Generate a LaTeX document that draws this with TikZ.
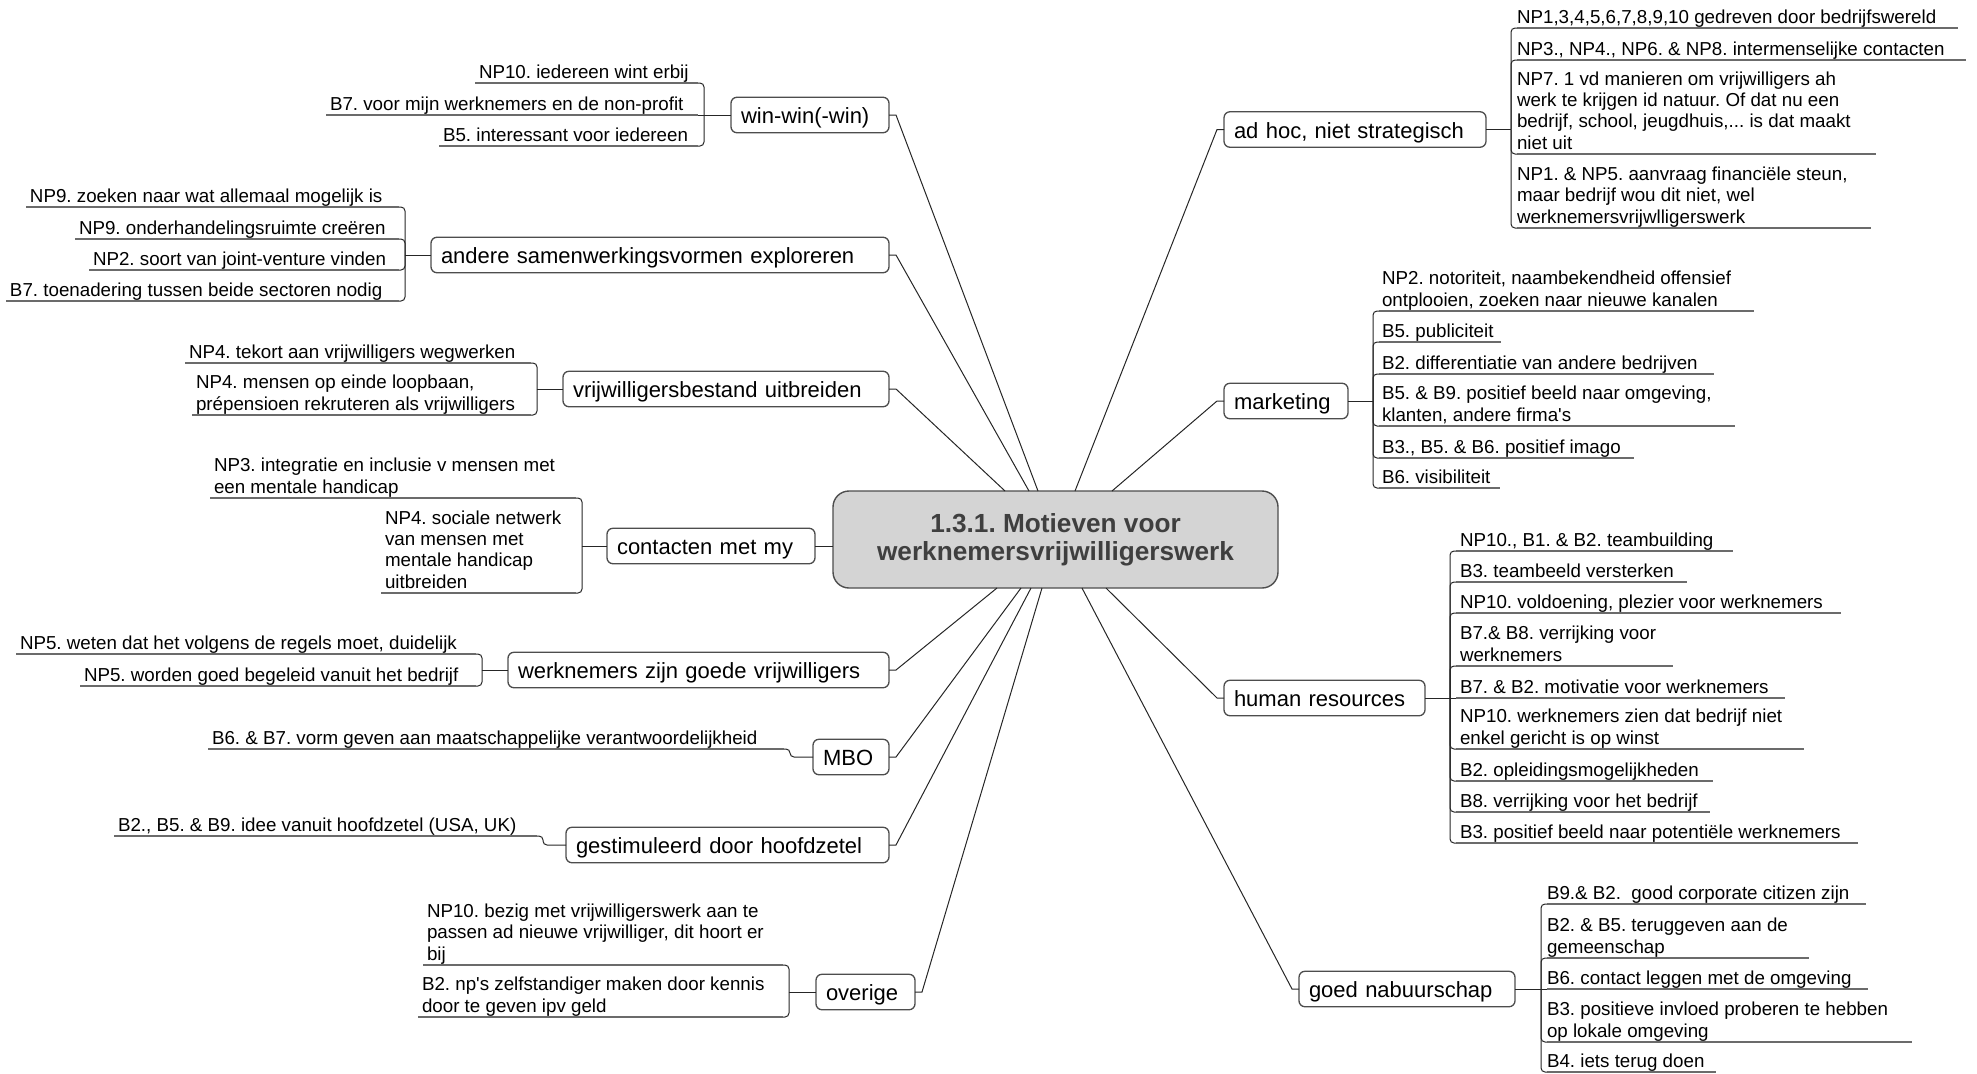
\documentclass[tikz,border=0pt]{standalone}
\usepackage{fontspec}
\setmainfont{Liberation Sans}
\usetikzlibrary{calc}
\frenchspacing
\definecolor{linecol}{HTML}{262626}
\definecolor{boxcol}{HTML}{4D4D4D}
\definecolor{ulcol}{HTML}{6B6B6B}
\definecolor{cfill}{HTML}{D4D4D4}
\definecolor{ctext}{HTML}{3F3F3F}
\newcommand{\ml}[1]{\begin{tabular}[b]{@{}l@{}}#1\end{tabular}}
\tikzset{
  item/.style={inner sep=0pt, outer sep=0pt, font=\fontsize{9.38pt}{10.6pt}\selectfont\frenchspacing},
  uline/.style={draw=ulcol, line width=0.8pt},
  conn/.style={draw=linecol, line width=0.5pt},
  topic/.style={draw=boxcol, line width=0.65pt, rounded corners=3pt, inner xsep=5pt, inner ysep=2pt,
    outer sep=0pt, minimum height=17.75pt, align=left, anchor=west, text height=8.6pt, text depth=0pt,
    font=\fontsize{11pt}{13pt}\selectfont\frenchspacing},
  centre/.style={draw=boxcol, line width=0.7pt, fill=cfill, rounded corners=8pt, minimum width=222.5pt,
    minimum height=48.5pt, align=center, text=ctext, outer sep=0pt,
    font=\fontsize{13.1pt}{14pt}\selectfont\bfseries\frenchspacing}
}
% left item: name, underline start x, bracket x, underline y, text
\newcommand{\LItem}[5]{%
  \coordinate (#1-a) at (#2,#4);
  \coordinate (#1-z) at (#3-6,#4);
  \node[item, anchor=base west] (#1) at (#2+4,#4-5) {\ml{#5}};
  \draw[uline] (#1-a) -- (#1-z);
}
% right item: name, bracket x, text gap, underline end x, underline y, text
\newcommand{\RItem}[6]{%
  \coordinate (#1-z) at (#2+6,#5);
  \coordinate (#1-a) at (#4,#5);
  \node[item, anchor=base west] (#1) at (#2+#3,#5-5) {\ml{#6}};
  \draw[uline] (#1-z) -- (#1-a);
}
\newcommand{\Br}[2]{\draw[conn, rounded corners=2pt] (#1) -- (#1 |- #2) -- (#2);}
\begin{document}
\begin{tikzpicture}[x=0.5pt,y=-0.5pt]
\useasboundingbox (0,0) rectangle (1977,1073);

% centre
\node[centre] (C) at (1055.5,539.5) {1.3.1. Motieven voor\\werknemersvrijwilligerswerk};

% ---------- left topics ----------
\node[topic, text width=69pt] (ww) at (731,115) {win-win(-win)};
\coordinate (ww-s) at (704,115);
\LItem{ww1}{475}{704}{83}{NP10. iedereen wint erbij}
\LItem{ww2}{326}{704}{115}{B7. voor mijn werknemers en de non-profit}
\LItem{ww3}{439}{704}{146}{B5. interessant voor iedereen}
\draw[conn] (ww.west) -- (ww-s);
\Br{ww-s}{ww1-z} \draw[conn] (ww-s) -- (ww2-z); \Br{ww-s}{ww3-z}

\node[topic, text width=219pt] (an) at (431,255) {andere samenwerkingsvormen exploreren};
\coordinate (an-s) at (405,255);
\LItem{an1}{26}{405}{207}{NP9. zoeken naar wat allemaal mogelijk is}
\LItem{an2}{75}{405}{239}{NP9. onderhandelingsruimte creëren}
\LItem{an3}{89}{405}{270}{NP2. soort van joint-venture vinden}
\LItem{an4}{6}{405}{301}{B7. toenadering tussen beide sectoren nodig}
\draw[conn] (an.west) -- (an-s);
\Br{an-s}{an1-z} \Br{an-s}{an2-z} \Br{an-s}{an3-z} \Br{an-s}{an4-z}

\node[topic, text width=153pt] (vr) at (563,389) {vrijwilligersbestand uitbreiden};
\coordinate (vr-s) at (537,389);
\LItem{vr1}{185}{537}{363}{NP4. tekort aan vrijwilligers wegwerken}
\LItem{vr2}{192}{537}{415}{NP4. mensen op einde loopbaan,\\prépensioen rekruteren als vrijwilligers}
\draw[conn] (vr.west) -- (vr-s);
\Br{vr-s}{vr1-z} \Br{vr-s}{vr2-z}

\node[topic, text width=94pt] (co) at (607,546) {contacten met my};
\coordinate (co-s) at (582,546);
\LItem{co1}{210}{582}{498}{NP3. integratie en inclusie v mensen met\\een mentale handicap}
\LItem{co2}{381}{582}{593}{NP4. sociale netwerk\\van mensen met\\mentale handicap\\uitbreiden}
\draw[conn] (co.west) -- (co-s);
\Br{co-s}{co1-z} \Br{co-s}{co2-z}

\node[topic, text width=180.5pt] (wn) at (508,670) {werknemers zijn goede vrijwilligers};
\coordinate (wn-s) at (482,670);
\LItem{wn1}{16}{482}{654}{NP5. weten dat het volgens de regels moet, duidelijk}
\LItem{wn2}{80}{482}{686}{NP5. worden goed begeleid vanuit het bedrijf}
\draw[conn] (wn.west) -- (wn-s);
\Br{wn-s}{wn1-z} \Br{wn-s}{wn2-z}

\node[topic, text width=28pt] (mb) at (813,757) {MBO};
\coordinate (mb-s) at (790,757);
\LItem{mb1}{208}{790}{749}{B6. \& B7. vorm geven aan maatschappelijke verantwoordelijkheid}
\draw[conn, rounded corners=2pt] (mb.west) -- (mb-s) -- (mb-s |- mb1-z) -- (mb1-z);

\node[topic, text width=151.5pt] (gs) at (566,845) {gestimuleerd door hoofdzetel};
\coordinate (gs-s) at (543,845);
\LItem{gs1}{114}{543}{836}{B2., B5. \& B9. idee vanuit hoofdzetel (USA, UK)}
\draw[conn, rounded corners=2pt] (gs.west) -- (gs-s) -- (gs-s |- gs1-z) -- (gs1-z);

\node[topic, text width=39.5pt] (ov) at (816,992) {overige};
\coordinate (ov-s) at (789,992);
\LItem{ov1}{423}{789}{965}{NP10. bezig met vrijwilligerswerk aan te\\passen ad nieuwe vrijwilliger, dit hoort er\\bij}
\LItem{ov2}{418}{789}{1017}{B2. np\textquotesingle s zelfstandiger maken door kennis\\door te geven ipv geld}
\draw[conn] (ov.west) -- (ov-s);
\Br{ov-s}{ov1-z} \Br{ov-s}{ov2-z}

% ---------- right topics ----------
\node[topic, text width=121pt] (ah) at (1224,129.5) {ad hoc, niet strategisch};
\coordinate (ah-s) at (1511,129.5);
\RItem{ah1}{1511}{6}{1958}{28}{NP1,3,4,5,6,7,8,9,10 gedreven door bedrijfswereld}
\RItem{ah2}{1511}{6}{1966}{60}{NP3., NP4., NP6. \& NP8. intermenselijke contacten}
\RItem{ah3}{1511}{6}{1876}{154}{NP7. 1 vd manieren om vrijwilligers ah\\werk te krijgen id natuur. Of dat nu een\\bedrijf, school, jeugdhuis,... is dat maakt\\niet uit}
\RItem{ah4}{1511}{6}{1871}{228}{NP1. \& NP5. aanvraag financiële steun,\\maar bedrijf wou dit niet, wel\\werknemersvrijwlligerswerk}
\draw[conn] (ah.east) -- (ah-s);
\Br{ah-s}{ah1-z} \Br{ah-s}{ah2-z} \Br{ah-s}{ah3-z} \Br{ah-s}{ah4-z}

\node[topic, text width=52pt] (mk) at (1224,401) {marketing};
\coordinate (mk-s) at (1373,401);
\RItem{mk1}{1373}{9}{1754}{311}{NP2. notoriteit, naambekendheid offensief\\ontplooien, zoeken naar nieuwe kanalen}
\RItem{mk2}{1373}{9}{1501}{342}{B5. publiciteit}
\RItem{mk3}{1373}{9}{1714}{374}{B2. differentiatie van andere bedrijven}
\RItem{mk4}{1373}{9}{1735}{426}{B5. \& B9. positief beeld naar omgeving,\\klanten, andere firma\textquotesingle s}
\RItem{mk5}{1373}{9}{1634}{458}{B3., B5. \& B6. positief imago}
\RItem{mk6}{1373}{9}{1500}{488}{B6. visibiliteit}
\draw[conn] (mk.east) -- (mk-s);
\Br{mk-s}{mk1-z} \Br{mk-s}{mk2-z} \Br{mk-s}{mk3-z} \Br{mk-s}{mk4-z} \Br{mk-s}{mk5-z} \Br{mk-s}{mk6-z}

\node[topic, text width=90.5pt] (hr) at (1224,698) {human resources};
\coordinate (hr-s) at (1450,698);
\RItem{hr1}{1450}{10}{1733}{551}{NP10., B1. \& B2. teambuilding}
\RItem{hr2}{1450}{10}{1687}{582}{B3. teambeeld versterken}
\RItem{hr3}{1450}{10}{1841}{613}{NP10. voldoening, plezier voor werknemers}
\RItem{hr4}{1450}{10}{1673}{666}{B7.\& B8. verrijking voor\\werknemers}
\RItem{hr5}{1450}{10}{1785}{698}{B7. \& B2. motivatie voor werknemers}
\RItem{hr6}{1450}{10}{1804}{749}{NP10. werknemers zien dat bedrijf niet\\enkel gericht is op winst}
\RItem{hr7}{1450}{10}{1713}{781}{B2. opleidingsmogelijkheden}
\RItem{hr8}{1450}{10}{1710}{812}{B8. verrijking voor het bedrijf}
\RItem{hr9}{1450}{10}{1858}{843}{B3. positief beeld naar potentiële werknemers}
\draw[conn] (hr.east) -- (hr-s);
\Br{hr-s}{hr1-z} \Br{hr-s}{hr2-z} \Br{hr-s}{hr3-z} \Br{hr-s}{hr4-z} \draw[conn] (hr-s) -- (hr5-z);
\Br{hr-s}{hr6-z} \Br{hr-s}{hr7-z} \Br{hr-s}{hr8-z} \Br{hr-s}{hr9-z}

\node[topic, text width=98pt] (gn) at (1299,989) {goed nabuurschap};
\coordinate (gn-s) at (1541,989);
\RItem{gn1}{1541}{6}{1866}{904}{B9.\& B2.\ \ good corporate citizen zijn}
\RItem{gn2}{1541}{6}{1809}{958}{B2. \& B5. teruggeven aan de\\gemeenschap}
\RItem{gn3}{1541}{6}{1868}{989}{B6. contact leggen met de omgeving}
\RItem{gn4}{1541}{6}{1912}{1042}{B3. positieve invloed proberen te hebben\\op lokale omgeving}
\RItem{gn5}{1541}{6}{1716}{1072}{B4. iets terug doen}
\draw[conn] (gn.east) -- (gn-s);
\Br{gn-s}{gn1-z} \Br{gn-s}{gn2-z} \draw[conn] (gn-s) -- (gn3-z); \Br{gn-s}{gn4-z} \Br{gn-s}{gn5-z}

% ---------- centre connectors ----------
\draw[conn] (ww.east) -- ++(7,0) -- ($(C.north)+(-17.5,0)$);
\draw[conn] (an.east) -- ++(7,0) -- ($(C.north)+(-26.5,0)$);
\draw[conn] (vr.east) -- ++(7,0) -- ($(C.north)+(-50.5,0)$);
\draw[conn] (co.east) -- (C.west |- co.east);
\draw[conn] (wn.east) -- ++(7,0) -- ($(C.south)+(-58.5,0)$);
\draw[conn] (mb.east) -- ++(7,0) -- ($(C.south)+(-34.5,0)$);
\draw[conn] (gs.east) -- ++(7,0) -- ($(C.south)+(-24.5,0)$);
\draw[conn] (ov.east) -- ++(7,0) -- ($(C.south)+(-13.5,0)$);
\draw[conn] (ah.west) -- ++(-7,0) -- ($(C.north)+(19.5,0)$);
\draw[conn] (mk.west) -- ++(-7,0) -- ($(C.north)+(56.5,0)$);
\draw[conn] (hr.west) -- ++(-7,0) -- ($(C.south)+(50.5,0)$);
\draw[conn] (gn.west) -- ++(-7,0) -- ($(C.south)+(26.5,0)$);
\end{tikzpicture}
\end{document}
